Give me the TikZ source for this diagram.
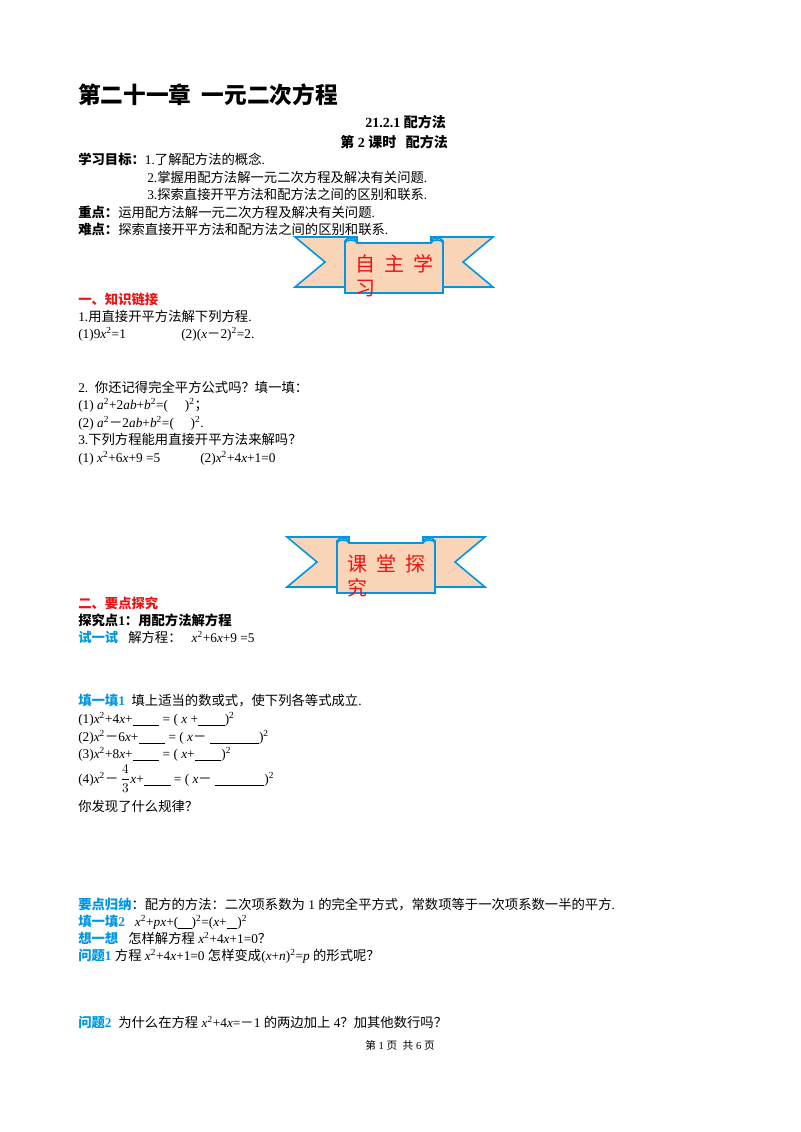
\documentclass[tikz,border=0pt]{standalone}
\usepackage{fontspec}
\setmainfont{Liberation Serif}
\newfontfamily\cjk{Noto Sans CJK SC}
\newcommand\zh[1]{{\cjk #1}}
\newcommand\bl[1]{\underline{\hspace{#1}}}
\definecolor{lblue}{RGB}{0,150,225}
\definecolor{peach}{RGB}{250,212,182}
\definecolor{bred}{RGB}{235,20,20}
\begin{document}
\begin{tikzpicture}[x=0.75pt,y=-0.75pt,
 tx/.style={anchor=base west,inner sep=0,font=\fontsize{10}{12}\selectfont},
 bt/.style={anchor=base west,inner sep=0,text=bred,font=\fontsize{15}{17}\selectfont\cjk},
 banner/.style={draw=lblue,line width=1.2pt,fill=peach}]
\useasboundingbox (0,0) rectangle (800,1132);
\newcommand\ribbon[4]{%
 \begin{scope}[shift={(#1,#2)}]
  \draw[banner] (0,0) -- (62,0) -- (62,50) -- (0,50) -- (30,25) -- cycle;
  \draw[banner] (198,0) -- (136,0) -- (136,50) -- (198,50) -- (168,25) -- cycle;
  \draw[banner] (50,4) .. controls (52,0) and (60,0) .. (62,4) -- (62,10) -- (50,10) -- cycle;
  \draw[banner] (148,4) .. controls (146,0) and (138,0) .. (136,4) -- (136,10) -- (148,10) -- cycle;
  \draw[banner] (50,6) .. controls (50,2) and (62,2) .. (62,6) -- (136,6) .. controls (136,2) and (148,2) .. (148,6) -- (148,56) -- (50,56) -- cycle;
  \node[bt] (#4) at (60,34) {#3};
 \end{scope}}
\node[tx,font=\fontsize{17}{20}\selectfont\bfseries\cjk] (title) at (78,103) {第二十一章\ \ 一元二次方程};
\node[tx,font=\fontsize{10.5}{12}\selectfont\bfseries] (sec) at (365,127) {21.2.1 \zh{配方法}};
\node[tx,font=\fontsize{10.5}{12}\selectfont\bfseries] (les) at (340,147) {\zh{第} 2 \zh{课时\ \ \ 配方法}};
\node[tx] (g1) at (78,164) {\zh{\bfseries 学习目标：}1.\zh{了解配方法的概念}.};
\node[tx] (g2) at (147,182) {2.\zh{掌握用配方法解一元二次方程及解决有关问题}.};
\node[tx] (g3) at (147,199) {3.\zh{探索直接开平方法和配方法之间的区别和联系}.};
\node[tx] (k1) at (78,217) {\zh{\bfseries 重点：}\zh{运用配方法解一元二次方程及解决有关问题}.};
\node[tx] (k2) at (78,234) {\zh{\bfseries 难点：}\zh{探索直接开平方法和配方法之间的区别和联系}.};
\ribbon{295}{237}{自\ \ 主\ \ 学}{b1a}
\node[bt] (b1b) at (355,295) {习};
\node[tx,text=bred,font=\fontsize{10}{12}\selectfont\bfseries\cjk] (s1) at (78,304) {一、知识链接};
\node[tx] (q1) at (78,321) {1.\zh{用直接开平方法解下列方程}.};
\node[tx] (q1a) at (78,338) {(1)9\textit{x}\textsuperscript{2}=1};
\node[tx] (q1b) at (181,338) {(2)(\textit{x}\zh{－}2)\textsuperscript{2}=2.};
\node[tx] (q2) at (78,392) {2.\ \ \zh{你还记得完全平方公式吗？填一填：}};
\node[tx] (q2a) at (78,409) {(1) \textit{a}\textsuperscript{2}+2\textit{ab}+\textit{b}\textsuperscript{2}=(\ \ \ \ \ )\textsuperscript{2}\zh{；}};
\node[tx] (q2b) at (78,427) {(2) \textit{a}\textsuperscript{2}\zh{－}2\textit{ab}+\textit{b}\textsuperscript{2}=(\ \ \ \ \ )\textsuperscript{2}.};
\node[tx] (q3) at (78,444) {3.\zh{下列方程能用直接开平方法来解吗？}};
\node[tx] (q3a) at (78,462) {(1) \textit{x}\textsuperscript{2}+6\textit{x}+9 =5};
\node[tx] (q3b) at (200,462) {(2)\textit{x}\textsuperscript{2}+4\textit{x}+1=0};
\ribbon{287}{537}{课\ \ 堂\ \ 探}{b2a}
\node[bt] (b2b) at (347,595) {究};
\node[tx,text=bred,font=\fontsize{10}{12}\selectfont\bfseries\cjk] (s2) at (78,608) {二、要点探究};
\node[tx,font=\fontsize{10}{12}\selectfont\bfseries] (p1) at (78,625) {\zh{探究点}1\zh{：用配方法解方程}};
\node[tx] (t1) at (78,642) {\textcolor{lblue}{\zh{\bfseries 试一试}}\ \ \ \zh{解方程：}\ \ \ \textit{x}\textsuperscript{2}+6\textit{x}+9 =5};
\node[tx] (f1) at (78,705) {\textcolor{lblue}{\zh{\bfseries 填一填}\textbf{1}}\ \ \zh{填上适当的数或式，使下列各等式成立}.};
\node[tx] (f1a) at (78,723) {(1)\textit{x}\textsuperscript{2}+4\textit{x}+\bl{2em} = ( \textit{x} +\bl{2em})\textsuperscript{2}};
\node[tx] (f1b) at (78,741) {(2)\textit{x}\textsuperscript{2}\zh{－}6\textit{x}+\bl{2em} = ( \textit{x}\zh{－} \bl{3.7em})\textsuperscript{2}};
\node[tx] (f1c) at (78,758) {(3)\textit{x}\textsuperscript{2}+8\textit{x}+\bl{2em} = ( \textit{x}+\bl{2em})\textsuperscript{2}};
\node[tx] (f1d) at (78,783) {(4)\textit{x}\textsuperscript{2}\zh{－}\,$\displaystyle\frac{4}{3}$\textit{x}+\bl{2em} = ( \textit{x}\zh{－} \bl{3.7em})\textsuperscript{2}};
\node[tx] (f1e) at (78,811) {\zh{你发现了什么规律？}};
\node[tx] (r1) at (78,909) {\textcolor{lblue}{\zh{\bfseries 要点归纳}}\zh{：配方的方法：二次项系数为} 1 \zh{的完全平方式，常数项等于一次项系数一半的平方}.};
\node[tx] (f2) at (78,926) {\textcolor{lblue}{\zh{\bfseries 填一填}\textbf{2}}\ \ \ \textit{x}\textsuperscript{2}+\textit{px}+(\bl{1em})\textsuperscript{2}=(\textit{x}+\bl{0.8em})\textsuperscript{2}};
\node[tx] (x1) at (78,943) {\textcolor{lblue}{\zh{\bfseries 想一想}}\ \ \ \zh{怎样解方程} \textit{x}\textsuperscript{2}+4\textit{x}+1=0\zh{？}};
\node[tx] (w1) at (78,960) {\textcolor{lblue}{\zh{\bfseries 问题}\textbf{1}}\ \zh{方程} \textit{x}\textsuperscript{2}+4\textit{x}+1=0 \zh{怎样变成}(\textit{x}+\textit{n})\textsuperscript{2}=\textit{p} \zh{的形式呢？}};
\node[tx] (w2) at (78,1027) {\textcolor{lblue}{\zh{\bfseries 问题}\textbf{2}}\ \ \zh{为什么在方程} \textit{x}\textsuperscript{2}+4\textit{x}=\zh{－}1 \zh{的两边加上} 4\zh{？加其他数行吗？}};
\node[anchor=base,inner sep=0,font=\fontsize{8}{10}\selectfont] (foot) at (400,1049) {\zh{第}\ 1\ \zh{页}\ \ \zh{共}\ 6\ \zh{页}};
\end{tikzpicture}
\end{document}
